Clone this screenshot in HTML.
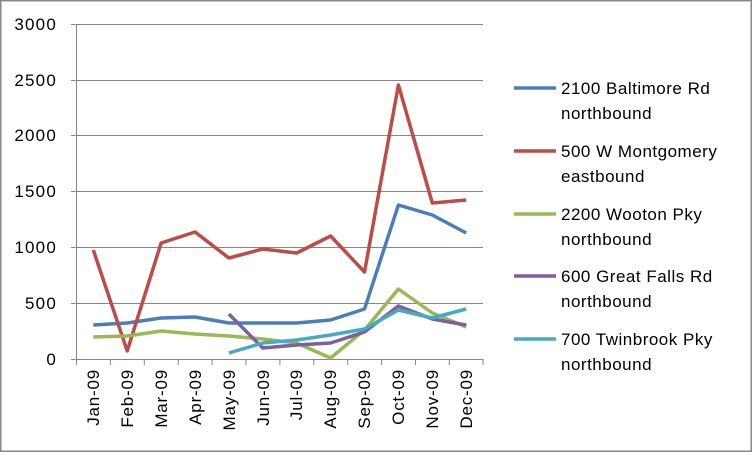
<!DOCTYPE html><html><head><style>body{margin:0;background:#fff}</style></head><body>
<svg width="752" height="452" xmlns="http://www.w3.org/2000/svg" font-family="Liberation Sans, sans-serif">
<rect x="0.5" y="0.5" width="751" height="451" fill="#fff" stroke="#888" stroke-width="2"/>
<g stroke="#868686" stroke-width="1">
<line x1="76" y1="24.5" x2="483" y2="24.5"/><line x1="76" y1="80.5" x2="483" y2="80.5"/><line x1="76" y1="135.5" x2="483" y2="135.5"/><line x1="76" y1="191.5" x2="483" y2="191.5"/><line x1="76" y1="247.5" x2="483" y2="247.5"/><line x1="76" y1="303.5" x2="483" y2="303.5"/><line x1="71" y1="359.5" x2="483" y2="359.5"/>
<line x1="76.5" y1="24" x2="76.5" y2="365"/>
<line x1="71" y1="24.5" x2="76" y2="24.5"/><line x1="71" y1="80.5" x2="76" y2="80.5"/><line x1="71" y1="135.5" x2="76" y2="135.5"/><line x1="71" y1="191.5" x2="76" y2="191.5"/><line x1="71" y1="247.5" x2="76" y2="247.5"/><line x1="71" y1="303.5" x2="76" y2="303.5"/>
<line x1="110.4" y1="359" x2="110.4" y2="365"/><line x1="144.3" y1="359" x2="144.3" y2="365"/><line x1="178.2" y1="359" x2="178.2" y2="365"/><line x1="212.1" y1="359" x2="212.1" y2="365"/><line x1="246" y1="359" x2="246" y2="365"/><line x1="279.9" y1="359" x2="279.9" y2="365"/><line x1="313.8" y1="359" x2="313.8" y2="365"/><line x1="347.7" y1="359" x2="347.7" y2="365"/><line x1="381.6" y1="359" x2="381.6" y2="365"/><line x1="415.5" y1="359" x2="415.5" y2="365"/><line x1="449.4" y1="359" x2="449.4" y2="365"/><line x1="483" y1="359" x2="483" y2="365"/>
</g>
<g font-size="17" text-anchor="end" fill="#000" letter-spacing="1.2">
<text x="57" y="30">3000</text><text x="57" y="86">2500</text><text x="57" y="141">2000</text><text x="57" y="197">1500</text><text x="57" y="253">1000</text><text x="57" y="309">500</text><text x="57" y="365">0</text>
</g>
<g font-size="17" text-anchor="end" fill="#000" letter-spacing="0.8">
<text transform="translate(99,369) rotate(-90)">Jan-09</text><text transform="translate(133,369) rotate(-90)">Feb-09</text><text transform="translate(167,369) rotate(-90)">Mar-09</text><text transform="translate(201,369) rotate(-90)">Apr-09</text><text transform="translate(235,369) rotate(-90)">May-09</text><text transform="translate(269,369) rotate(-90)">Jun-09</text><text transform="translate(302,369) rotate(-90)">Jul-09</text><text transform="translate(336,369) rotate(-90)">Aug-09</text><text transform="translate(370,369) rotate(-90)">Sep-09</text><text transform="translate(404,369) rotate(-90)">Oct-09</text><text transform="translate(438,369) rotate(-90)">Nov-09</text><text transform="translate(472,369) rotate(-90)">Dec-09</text>
</g>
<g fill="none" stroke-width="3.5" stroke-linejoin="round">
<polyline stroke="#4a7ebb" points="93.3,325 127.2,323 161.1,318 195,317 228.9,323 262.8,323 296.7,323 330.6,320 364.5,309 398.4,205 432.3,215 466.2,233"/>
<polyline stroke="#be4b48" points="93.3,250 127.2,351 161.1,243 195,232 228.9,258 262.8,249 296.7,253 330.6,236 364.5,272 398.4,85 432.3,203 466.2,200"/>
<polyline stroke="#98b954" points="93.3,337 127.2,336 161.1,331 195,334 228.9,336 262.8,339 296.7,343 330.6,358 364.5,330 398.4,289 432.3,313 466.2,327"/>
<polyline stroke="#7d60a0" points="228.9,314 262.8,348 296.7,345 330.6,343 364.5,332 398.4,306 432.3,319 466.2,325"/>
<polyline stroke="#46aac5" points="228.9,353 262.8,343 296.7,340 330.6,335 364.5,329 398.4,310 432.3,318 466.2,309"/>
</g>
<g stroke-width="3.5">
<line x1="514" y1="88" x2="556" y2="88" stroke="#4a7ebb"/>
<line x1="514" y1="151" x2="556" y2="151" stroke="#be4b48"/>
<line x1="514" y1="214" x2="556" y2="214" stroke="#98b954"/>
<line x1="514" y1="276" x2="556" y2="276" stroke="#7d60a0"/>
<line x1="514" y1="339" x2="556" y2="339" stroke="#46aac5"/>
</g>
<g font-size="17" fill="#000" letter-spacing="0.5">
<text x="561" y="94">2100 Baltimore Rd</text><text x="561" y="119">northbound</text>
<text x="561" y="157">500 W Montgomery</text><text x="561" y="182">eastbound</text>
<text x="561" y="220">2200 Wooton Pky</text><text x="561" y="245">northbound</text>
<text x="561" y="282">600 Great Falls Rd</text><text x="561" y="307">northbound</text>
<text x="561" y="345">700 Twinbrook Pky</text><text x="561" y="370">northbound</text>
</g>
</svg></body></html>
